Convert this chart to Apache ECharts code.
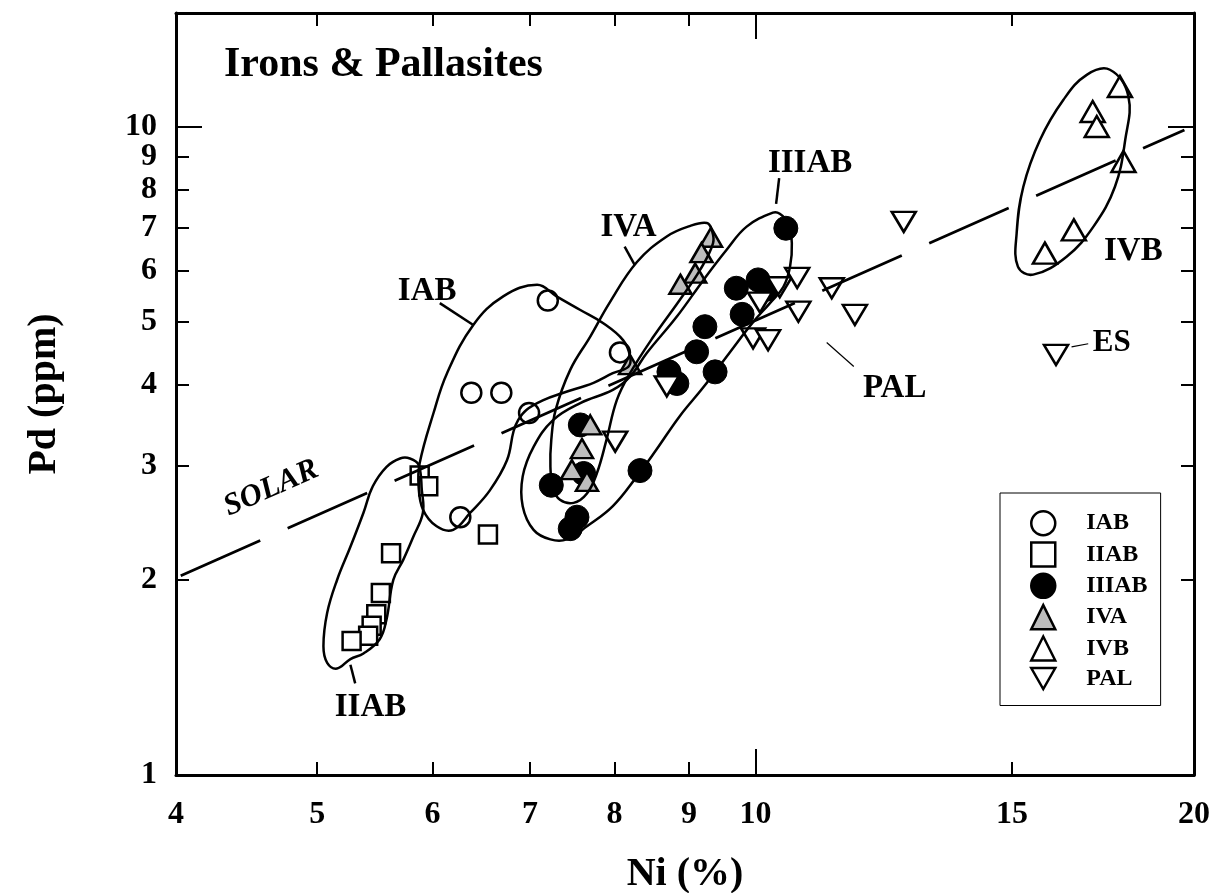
<!DOCTYPE html>
<html lang="en">
<head>
<meta charset="UTF-8" />
<title>Irons &amp; Pallasites</title>
<script src="https://cdn.jsdelivr.net/npm/echarts@6.0.0/dist/echarts.min.js"></script>
<style>html,body{margin:0;padding:0;background:#fff}</style>
</head>
<body>
<div id="chart" style="width:1213px;height:893px"></div>
<script>
// meteorite groups, each point is [Ni %, Pd ppm]
var iabPts = [[7.20, 5.40], [6.38, 3.89], [6.69, 3.89], [6.99, 3.62], [6.27, 2.50], [8.07, 4.49]];
var iiabPts = [[5.88, 2.90], [5.96, 2.79], [6.55, 2.35], [5.62, 2.20], [5.53, 1.91], [5.49, 1.77], [5.45, 1.70], [5.42, 1.64], [5.28, 1.61]];
var iiiabPts = [[10.49, 6.98], [9.70, 5.64], [10.04, 5.81], [10.18, 5.62], [9.79, 5.14], [9.23, 4.92], [9.11, 4.50], [9.38, 4.19], [8.72, 4.19], [8.83, 4.02], [8.33, 2.95], [7.24, 2.80], [7.62, 2.92], [7.58, 3.47], [7.54, 2.50], [7.46, 2.40]];
var ivaPts = [[9.32, 6.76], [9.18, 6.40], [9.09, 5.95], [8.88, 5.72], [8.20, 4.30], [7.70, 3.47], [7.60, 3.19], [7.48, 2.96], [7.66, 2.84]];
var ivbPts = [[17.79, 11.55], [17.04, 10.57], [17.15, 10.02], [17.89, 8.85], [16.54, 6.94], [15.80, 6.39]];
var palPts = [[8.69, 3.98], [8.01, 3.27], [9.96, 4.72], [10.20, 4.69], [10.07, 5.36], [10.39, 5.66], [10.68, 5.85], [10.70, 5.19], [11.28, 5.64], [11.70, 5.13], [12.64, 7.14], [16.08, 4.45]];

// hand drawn group fields (closed outlines)
var iabField = [[7.08, 5.71], [7.30, 5.48], [7.58, 5.22], [7.86, 4.98], [8.11, 4.69], [8.20, 4.43], [8.18, 4.27], [7.98, 4.17], [7.74, 4.03], [7.38, 3.89], [7.15, 3.79], [6.96, 3.66], [6.87, 3.53], [6.82, 3.39], [6.75, 3.06], [6.57, 2.75], [6.37, 2.54], [6.20, 2.39], [6.04, 2.42], [5.91, 2.57], [5.87, 2.79], [5.88, 3.03], [6.01, 3.62], [6.14, 4.17], [6.40, 4.95], [6.71, 5.48]];
var iiabField = [[5.16, 1.46], [5.08, 1.49], [5.05, 1.58], [5.08, 1.78], [5.16, 2.00], [5.27, 2.25], [5.38, 2.54], [5.46, 2.79], [5.58, 2.99], [5.70, 3.08], [5.79, 3.08], [5.87, 3.01], [5.90, 2.75], [5.91, 2.54], [5.82, 2.33], [5.73, 2.15], [5.64, 2.00], [5.58, 1.74], [5.52, 1.62], [5.38, 1.54], [5.27, 1.51]];
var iiiabField = [[10.28, 7.38], [9.86, 7.02], [9.55, 6.46], [9.21, 5.81], [8.83, 5.10], [8.42, 4.48], [8.20, 4.12], [7.98, 3.93], [7.58, 3.75], [7.26, 3.53], [7.04, 3.21], [6.92, 2.89], [6.92, 2.60], [7.04, 2.39], [7.23, 2.31], [7.42, 2.31], [7.66, 2.42], [7.98, 2.60], [8.29, 2.89], [8.55, 3.18], [8.87, 3.58], [9.21, 3.97], [9.60, 4.49], [9.96, 5.00], [10.23, 5.35], [10.45, 5.67], [10.56, 6.09], [10.59, 6.62], [10.53, 7.11], [10.39, 7.35]];
var ivaField = [[9.26, 7.11], [9.02, 7.04], [8.69, 6.78], [8.29, 6.19], [7.94, 5.36], [7.70, 4.75], [7.46, 4.22], [7.29, 3.66], [7.24, 3.29], [7.23, 2.99], [7.26, 2.77], [7.34, 2.66], [7.50, 2.63], [7.66, 2.72], [7.78, 2.92], [7.90, 3.29], [8.03, 3.79], [8.20, 4.17], [8.51, 4.75], [8.87, 5.41], [9.16, 6.02], [9.35, 6.62], [9.33, 6.94]];
var ivbField = [[17.51, 12.26], [18.03, 11.15], [17.94, 9.56], [17.65, 8.09], [17.06, 7.02], [16.35, 6.31], [15.51, 5.92], [15.14, 6.09], [15.11, 6.86], [15.27, 8.09], [15.68, 9.56], [16.27, 11.02], [16.88, 12.04]];

// solar Pd/Ni ratio line
var solarLine = [[4.03, 2.03], [19.7, 9.9]];

// annotation labels and their leader lines [Ni1, Pd1, Ni2, Pd2]
var noteText = ['IAB', 'IIAB', 'IIIAB', 'IVA', 'IVB', 'PAL', 'ES', 'SOLAR'];
var notePos = [[5.95, 5.58], [5.44, 1.27], [10.9, 8.80], [8.18, 6.99], [18.17, 6.43], [12.46, 3.95], [17.56, 4.64], [4.65, 2.77]];
var leadersBold = [[6.07, 5.35, 6.40, 4.95], [5.27, 1.48, 5.31, 1.385], [8.13, 6.54, 8.26, 6.13], [10.38, 8.34, 10.33, 7.61]];
var leadersThin = [[11.19, 4.65, 11.68, 4.27], [16.48, 4.58, 16.92, 4.63]];

// axes ticks / labels
var xLabels = [4, 5, 6, 7, 8, 9, 10, 15, 20];
var xTicks = [5, 6, 7, 8, 9, 15];
var xLongTicks = [10];
var yLabels = [1, 2, 3, 4, 5, 6, 7, 8, 9];
var yLongLabels = [10];
var yTicks = [2, 3, 4, 5, 6, 7, 8, 9];
var yLongTicks = [10];

var serif = '"Liberation Serif", "Times New Roman", Times, serif';

function makeAxis(isX, pos, ticks, len, labels, showLine) {
  var ax = {
    type: 'log',
    logBase: 10,
    min: isX ? 4 : 1,
    max: isX ? 20 : 15,
    position: pos,
    axisLine: { show: showLine, lineStyle: { color: '#000', width: 3 } },
    axisTick: { show: true, inside: true, length: len, customValues: ticks, lineStyle: { color: '#000', width: 2 } },
    axisLabel: { show: false },
    splitLine: { show: false },
    minorTick: { show: false },
    minorSplitLine: { show: false }
  };
  if (labels) {
    ax.axisLabel = {
      show: true,
      customValues: labels,
      showMinLabel: true,
      showMaxLabel: true,
      hideOverlap: false,
      margin: isX ? 24 : 19,
      color: '#000',
      fontSize: 32,
      fontWeight: 'bold',
      fontFamily: serif,
      formatter: function (v) { return String(Math.round(v)); }
    };
  }
  return ax;
}

var xMain = makeAxis(true, 'bottom', xTicks, 13, xLabels, true);
xMain.name = 'Ni (%)';
xMain.nameLocation = 'middle';
xMain.nameGap = 80;
xMain.nameTextStyle = { color: '#000', fontSize: 40, fontWeight: 'bold', fontFamily: serif };

var yMain = makeAxis(false, 'left', yTicks, 13, yLabels, true);
yMain.name = 'Pd (ppm)';
yMain.nameLocation = 'middle';
yMain.nameGap = 111;
yMain.nameTextStyle = { color: '#000', fontSize: 40, fontWeight: 'bold', fontFamily: serif };

function openStyle(fill) {
  return { color: fill, borderColor: '#000', borderWidth: 2.5, opacity: 1 };
}

function groupSeries(name, pts, symbol, size, style, rotate) {
  return {
    name: name,
    type: 'scatter',
    data: pts,
    symbol: symbol,
    symbolSize: size,
    symbolRotate: rotate || 0,
    itemStyle: style,
    z: 2,
    silent: true
  };
}

function fieldSeries(name, pts) {
  return {
    name: name,
    type: 'custom',
    data: pts,
    encode: { x: 0, y: 1 },
    z: 3,
    silent: true,
    renderItem: function (params, api) {
      if (params.dataIndex !== 0) return null;
      var pix = pts.map(function (p) { return api.coord(p); });
      return {
        type: 'polygon',
        shape: { points: pix, smooth: 0.4 },
        style: { fill: 'none', stroke: '#000', lineWidth: 2.5 }
      };
    }
  };
}

function leaderSeries(name, segs, width) {
  return {
    name: name,
    type: 'custom',
    data: segs,
    encode: { x: [0, 2], y: [1, 3] },
    z: 3,
    silent: true,
    renderItem: function (params, api) {
      var a = api.coord([api.value(0), api.value(1)]);
      var b = api.coord([api.value(2), api.value(3)]);
      return {
        type: 'line',
        shape: { x1: a[0], y1: a[1], x2: b[0], y2: b[1] },
        style: { stroke: '#000', lineWidth: width }
      };
    }
  };
}

var noteData = noteText.map(function (t, i) {
  var item = { name: t, value: notePos[i] };
  if (t === 'SOLAR') {
    item.label = { rotate: 24, fontStyle: 'italic', fontSize: 31 };
  } else if (t === 'ES') {
    item.label = { fontSize: 31 };
  }
  return item;
});

var chart = echarts.init(document.getElementById('chart'), null, { renderer: 'canvas' });

var option = {
  backgroundColor: '#fff',
  animation: false,
  title: {
    text: 'Irons & Pallasites',
    left: 224,
    top: 44,
    padding: 0,
    textStyle: { color: '#000', fontSize: 42, fontWeight: 'bold', fontFamily: serif }
  },
  grid: { left: 176, right: 19, top: 13, bottom: 118, containLabel: false, outerBoundsMode: 'none' },
  xAxis: [
    xMain,
    makeAxis(true, 'bottom', xLongTicks, 26, null, false),
    makeAxis(true, 'top', xTicks, 13, null, true),
    makeAxis(true, 'top', xLongTicks, 26, null, false)
  ],
  yAxis: [
    yMain,
    makeAxis(false, 'left', yLongTicks, 26, yLongLabels, false),
    makeAxis(false, 'right', yTicks, 13, null, true),
    makeAxis(false, 'right', yLongTicks, 26, null, false)
  ],
  legend: {
    data: ['IAB', 'IIAB', 'IIIAB', 'IVA', 'IVB', { name: 'PAL', icon: 'path://M0,0L24,0L12,21Z' }],
    orient: 'vertical',
    left: 1000,
    top: 493,
    padding: [17, 13, 15, 30],
    itemWidth: 24,
    itemHeight: 24,
    itemGap: 4.8,
    backgroundColor: '#fff',
    borderColor: '#000',
    borderWidth: 1,
    borderRadius: 0,
    selectedMode: false,
    symbolKeepAspect: true,
    itemStyle: { borderWidth: 2.5, opacity: 1 },
    textStyle: { color: '#000', fontSize: 24, fontWeight: 'bold', fontFamily: serif, padding: [0, 0, 0, 26] }
  },
  series: [
    groupSeries('IAB', iabPts, 'circle', 20, openStyle('#fff')),
    groupSeries('IIAB', iiabPts, 'rect', 18, openStyle('#fff')),
    groupSeries('IIIAB', iiiabPts, 'circle', 24, { color: '#000', borderColor: '#000', borderWidth: 1, opacity: 1 }),
    groupSeries('IVA', ivaPts, 'triangle', [22, 19], openStyle('#bdbdbd')),
    groupSeries('IVB', ivbPts, 'triangle', [24, 21], openStyle('#fff')),
    groupSeries('PAL', palPts, 'triangle', [24, 20], openStyle('#fff'), 180),
    fieldSeries('IAB field', iabField),
    fieldSeries('IIAB field', iiabField),
    fieldSeries('IIIAB field', iiiabField),
    fieldSeries('IVA field', ivaField),
    fieldSeries('IVB field', ivbField),
    {
      name: 'Solar',
      type: 'line',
      data: solarLine,
      symbol: 'none',
      z: 3,
      silent: true,
      lineStyle: { color: '#000', width: 2.8, type: [87, 30], dashOffset: 0 }
    },
    leaderSeries('leaders bold', leadersBold, 2.5),
    leaderSeries('leaders thin', leadersThin, 1.2),
    {
      name: 'notes',
      type: 'scatter',
      data: noteData,
      symbolSize: 1,
      itemStyle: { color: 'transparent', opacity: 1 },
      z: 4,
      silent: true,
      label: {
        show: true,
        position: 'inside',
        formatter: '{b}',
        color: '#000',
        opacity: 1,
        fontSize: 33,
        fontWeight: 'bold',
        fontFamily: serif
      }
    }
  ]
};

chart.setOption(option);
</script>
</body>
</html>
